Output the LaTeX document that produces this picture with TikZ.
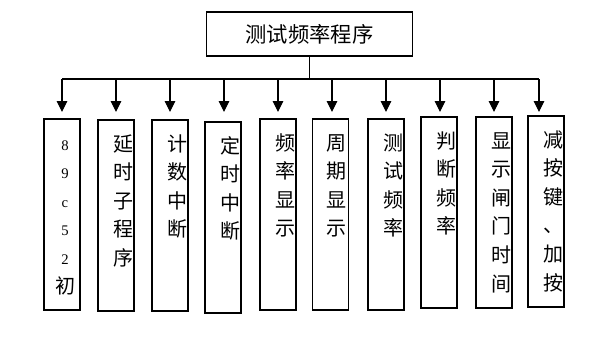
\documentclass[tikz,border=0pt]{standalone}
\usepackage{fontspec}
\setmainfont{Liberation Serif}
\newfontfamily\cjk{Noto Sans CJK SC}
\usetikzlibrary{arrows.meta}
\newcommand{\numch}[1]{{\rmfamily\fontsize{11pt}{21.4pt}\selectfont #1}}

\begin{document}
\begin{tikzpicture}[x=0.75pt, y=-0.75pt,
  box/.style={rectangle, draw=black, line width=0.8pt, minimum width=155pt, minimum height=33pt, font=\cjk\fontsize{16pt}{19pt}\selectfont},
  sub/.style={rectangle, draw=black, line width=0.8pt, minimum width=27pt, minimum height=143.25pt, inner sep=0pt},
  lbl/.style={anchor=north, inner sep=0pt, align=center, font=\cjk\fontsize{15pt}{21.4pt}\selectfont},
  link/.style={line width=0.8pt},
  arr/.style={-{Triangle[width=8pt,length=8.25pt]}, line width=0.8pt}
]
  \useasboundingbox (0,0) rectangle (613,346);
  \node[box] (top) at (309.5,34) {测试频率程序};
  \coordinate (tip) at (0,112);

  % sub-modules: arrow x / box x / box top / text shift / text
  \foreach \i/\ax/\bx/\by/\dx/\txt in {
      1/62/62/119/3/{\numch{8}\\\numch{9}\\\numch{c}\\\numch{5}\\\numch{2}\\初},
      2/116/116/120/7/{延\\时\\子\\程\\序},
      3/170/170/120/7/{计\\数\\中\\断},
      4/224/223/122/7/{定\\时\\中\\断},
      5/278/278/119/7/{频\\率\\显\\示},
      6/332/330.5/119/6/{周\\期\\显\\示},
      7/386/386/119/7/{测\\试\\频\\率},
      8/440/439/117/7/{判\\断\\频\\率},
      9/494/494/117/7/{显\\示\\闸\\门\\时\\间},
      10/539/546/116/7/{减\\按\\键\\、\\加\\按}}
  {
    \coordinate (a\i) at (\ax,79);
    \node[sub] (b\i) at (\bx,\by+95.5) {};
    \node[lbl] (t\i) at ([xshift=\dx*0.75pt, yshift=-9.7pt]b\i.north) {\rule{0pt}{14pt}\txt};
  }

  \draw[link] (top.south) -- (top.south |- a1);
  \draw[link] (a1) -- (a10);
  \foreach \i in {1,...,10}
    \draw[arr] (a\i) -- (a\i |- tip);
\end{tikzpicture}
\end{document}
